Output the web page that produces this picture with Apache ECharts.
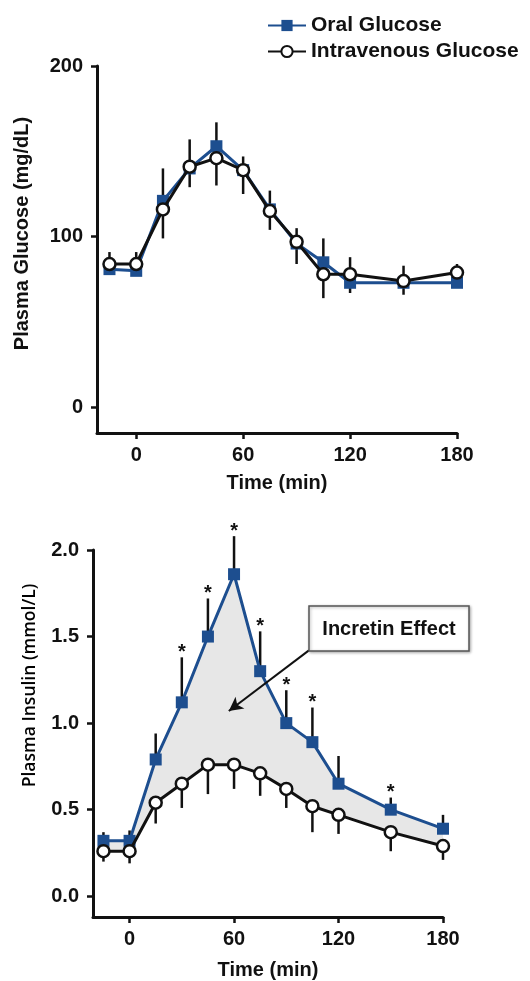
<!DOCTYPE html>
<html>
<head>
<meta charset="utf-8">
<script src="https://cdn.jsdelivr.net/npm/echarts@6/dist/echarts.min.js"></script>
<style>
  html, body { margin: 0; padding: 0; background: #fff; }
  #chart { width: 530px; height: 981px; }
</style>
</head>
<body>
<div id="chart"></div>
<script>
// sampling times (min)
const times = [-15, 0, 15, 30, 45, 60, 75, 90, 105, 120, 150, 180]
const timeTicks = [0, 60, 120, 180]

// plasma glucose (mg/dL); oral bars go up, iv bars go down
const glucoseOral = [81, 80, 121, 140, 153, 139, 116, 96, 85, 73, 73, 73]
const glucoseOralErr = [10, 11, 19, 17, 14, 8, 11, 9, 14, 15, 10, 11]
const glucoseIV = [84, 84, 116, 141, 146, 139, 115, 97, 78, 78, 74, 79]
const glucoseIVErr = [3, 3, 17, 12, 16, 14, 11, 13, 14, 11, 8, 2]
const glucoseTicks = [0, 100, 200]

// plasma insulin (mmol/L)
const insulinOral = [0.32, 0.32, 0.79, 1.12, 1.50, 1.86, 1.30, 1.00, 0.89, 0.65, 0.50, 0.39]
const insulinOralErr = [0.05, 0.06, 0.15, 0.26, 0.22, 0.22, 0.23, 0.19, 0.20, 0.16, 0.07, 0.08]
const insulinIV = [0.26, 0.26, 0.54, 0.65, 0.76, 0.76, 0.71, 0.62, 0.52, 0.47, 0.37, 0.29]
const insulinIVErr = [0.06, 0.07, 0.12, 0.14, 0.17, 0.14, 0.13, 0.11, 0.15, 0.11, 0.11, 0.08]
const insulinSig = [0, 0, 0, 1, 1, 1, 1, 1, 1, 0, 1, 0]
const insulinTicks = [0, 0.5, 1.0, 1.5, 2.0]

// incretin arrow, in data units of the insulin chart
const arrowFrom = [103, 1.42]
const arrowTo = [57, 1.07]

const BLUE = '#1d4e8f'
const INK = '#111'
const FONT = '"Liberation Sans", Arial, sans-serif'

function pairs(ys) {
  return times.map((t, i) => [t, ys[i]])
}

function errorBars(xi, vals, errs, dir, sig) {
  return {
    type: 'custom',
    xAxisIndex: xi,
    yAxisIndex: xi,
    z: 2,
    silent: true,
    clip: false,
    data: times.map((t, i) => [t, vals[i], errs[i], sig ? sig[i] : 0]),
    renderItem(params, api) {
      const x = api.value(0), y = api.value(1), e = api.value(2)
      const p0 = api.coord([x, y])
      const p1 = api.coord([x, y + dir * e])
      const children = [{
        type: 'line',
        shape: { x1: p0[0], y1: p0[1], x2: p1[0], y2: p1[1] },
        style: { stroke: INK, lineWidth: 2.5 }
      }]
      if (api.value(3)) {
        // significance star above the bar
        children.push({
          type: 'text',
          style: { text: '*', x: p1[0], y: p1[1] + 5, align: 'center', verticalAlign: 'bottom',
            font: 'bold 20px ' + FONT, fill: INK }
        })
      }
      return { type: 'group', children }
    }
  }
}

function lineSeries(name, xi, ys, oral) {
  return {
    name,
    type: 'line',
    xAxisIndex: xi,
    yAxisIndex: xi,
    data: pairs(ys),
    symbol: oral ? 'rect' : 'circle',
    symbolSize: 12,
    showAllSymbol: true,
    clip: false,
    z: oral ? 3 : 4,
    lineStyle: { color: oral ? BLUE : INK, width: 3 },
    itemStyle: oral ? { color: BLUE } : { color: '#fff', borderColor: INK, borderWidth: 2.5 }
  }
}

const labelStyle = { color: INK, fontSize: 20, fontWeight: 'bold', fontFamily: FONT }

function xAxisOpt(gi, min, gap) {
  return {
    gridIndex: gi, type: 'value', min: min, max: 180,
    axisLine: { show: true, onZero: false, lineStyle: { color: INK, width: 3 } },
    axisTick: { show: true, customValues: timeTicks, length: 6, lineStyle: { color: INK, width: 2.5 } },
    axisLabel: Object.assign({ customValues: timeTicks, margin: 12 }, labelStyle),
    splitLine: { show: false },
    name: 'Time (min)', nameLocation: 'middle', nameGap: gap,
    nameTextStyle: labelStyle
  }
}

const chart = echarts.init(document.getElementById('chart'))
chart.setOption({
  animation: false,
  backgroundColor: '#fff',
  legend: {
    data: ['Oral Glucose', 'Intravenous Glucose'],
    orient: 'vertical',
    left: 262,
    top: 10,
    itemWidth: 38,
    itemHeight: 14,
    itemGap: 5,
    selectedMode: false,
    textStyle: { color: INK, fontSize: 21, fontWeight: 'bold', fontFamily: FONT }
  },
  grid: [
    { left: 97, right: 73, top: 66, height: 367 },
    { left: 93, right: 87, top: 550, height: 367 }
  ],
  xAxis: [xAxisOpt(0, -22, 40), xAxisOpt(1, -21, 43)],
  yAxis: [
    {
      gridIndex: 0, type: 'value', min: -15, max: 200,
      axisLine: { show: true, onZero: false, lineStyle: { color: INK, width: 3 } },
      axisTick: { show: true, customValues: glucoseTicks, length: 6, lineStyle: { color: INK, width: 2.5 } },
      axisLabel: Object.assign({ customValues: glucoseTicks, margin: 14 }, labelStyle),
      splitLine: { show: false },
      name: 'Plasma Glucose (mg/dL)', nameLocation: 'middle', nameGap: 65,
      nameTextStyle: Object.assign({ padding: [0, 0, 0, 32] }, labelStyle)
    },
    {
      gridIndex: 1, type: 'value', min: -0.12, max: 2.0,
      axisLine: { show: true, onZero: false, lineStyle: { color: INK, width: 3 } },
      axisTick: { show: true, customValues: insulinTicks, length: 6, lineStyle: { color: INK, width: 2.5 } },
      axisLabel: Object.assign({ customValues: insulinTicks, margin: 14, formatter: v => v.toFixed(1) }, labelStyle),
      splitLine: { show: false },
      name: 'Plasma Insulin (mmol/L)', nameLocation: 'middle', nameGap: 54,
      nameTextStyle: { color: '#000', fontSize: 17.5, fontWeight: 600, fontFamily: '"Open Sans", sans-serif', padding: [0, 0, 0, 96] }
    }
  ],
  graphic: [
    {
      type: 'rect', z: 100,
      shape: { x: 309, y: 606, width: 160, height: 45 },
      style: { fill: '#fff', stroke: '#555', lineWidth: 1.5,
        shadowBlur: 3, shadowColor: 'rgba(0,0,0,0.3)', shadowOffsetX: 1, shadowOffsetY: 1 }
    },
    {
      type: 'text', z: 101, x: 389, y: 629,
      style: { text: 'Incretin Effect', align: 'center', verticalAlign: 'middle',
        font: 'bold 20px ' + FONT, fill: INK }
    }
  ],
  series: [
    // grey area between the two insulin curves
    {
      type: 'custom',
      xAxisIndex: 1,
      yAxisIndex: 1,
      z: 1,
      silent: true,
      clip: false,
      data: [[0, 0]],
      renderItem(params, api) {
        const top = times.map((t, i) => api.coord([t, insulinOral[i]]))
        const bottom = times.map((t, i) => api.coord([t, insulinIV[i]])).reverse()
        return { type: 'polygon', shape: { points: top.concat(bottom) }, style: { fill: '#e7e7e7' } }
      }
    },
    errorBars(0, glucoseOral, glucoseOralErr, 1),
    errorBars(0, glucoseIV, glucoseIVErr, -1),
    errorBars(1, insulinOral, insulinOralErr, 1, insulinSig),
    errorBars(1, insulinIV, insulinIVErr, -1),
    lineSeries('Oral Glucose', 0, glucoseOral, true),
    lineSeries('Intravenous Glucose', 0, glucoseIV, false),
    lineSeries('Oral Glucose', 1, insulinOral, true),
    Object.assign(lineSeries('Intravenous Glucose', 1, insulinIV, false), {
      markLine: {
        silent: true,
        symbol: ['none', 'arrow'],
        symbolSize: [11, 14],
        label: { show: false },
        lineStyle: { color: INK, width: 2, type: 'solid' },
        data: [[{ coord: arrowFrom }, { coord: arrowTo }]]
      }
    })
  ]
})
</script>
</body>
</html>
